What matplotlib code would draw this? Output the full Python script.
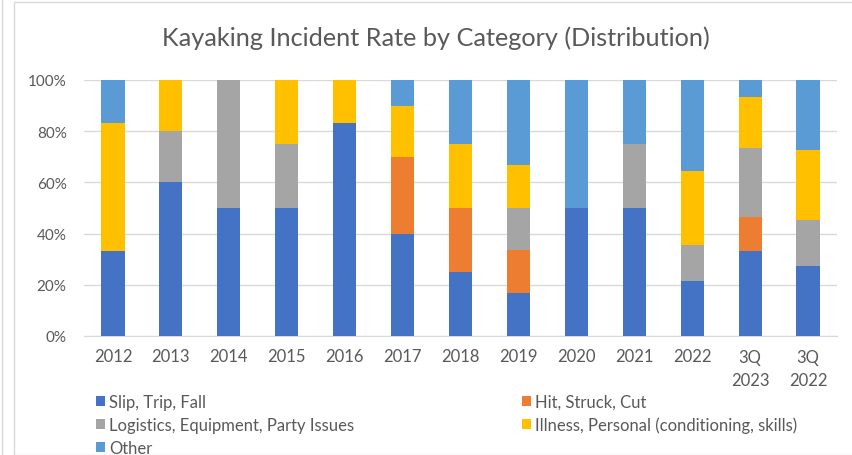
import matplotlib
matplotlib.use("Agg")
import matplotlib.pyplot as plt
import numpy as np
from matplotlib.patches import Rectangle

plt.rcParams['font.family'] = ['Lato', 'DejaVu Sans']

categories = ["2012", "2013", "2014", "2015", "2016", "2017", "2018", "2019",
              "2020", "2021", "2022", "3Q\n2023", "3Q\n2022"]
series_names = ["Slip, Trip, Fall", "Hit, Struck, Cut",
                "Logistics, Equipment, Party Issues",
                "Illness, Personal (conditioning, skills)", "Other"]
slip = [33.3, 60, 50, 50, 83.3, 40, 25, 16.7, 50, 50, 21.4, 33.3, 27.3]
hit = [0, 0, 0, 0, 0, 30, 25, 16.7, 0, 0, 0, 13.3, 0]
logistics = [0, 20, 50, 25, 0, 0, 0, 16.7, 0, 25, 14.3, 26.7, 18.2]
illness = [50, 20, 0, 25, 16.7, 20, 25, 16.7, 0, 0, 28.6, 20, 27.3]
other = [16.7, 0, 0, 0, 0, 10, 25, 33.3, 50, 25, 35.7, 6.7, 27.3]
colors = ["#4472C4", "#ED7D31", "#A5A5A5", "#FFC000", "#5B9BD5"]

W, H = 853, 456
fig = plt.figure(figsize=(W / 100, H / 100), dpi=100)
ax = fig.add_axes([84 / W, 1 - 337 / H, (837 - 84) / W, (337 - 81) / H])

x = np.arange(len(categories))
bottom = np.zeros(len(categories))
handles = []
for vals, name, c in zip([slip, hit, logistics, illness, other], series_names, colors):
    v = np.array(vals, dtype=float)
    b = ax.bar(x, v, 0.4, bottom=bottom, color=c, label=name, linewidth=0, zorder=3)
    handles.append(b)
    bottom += v

ax.set_xlim(-0.5, len(categories) - 0.5)
ax.set_ylim(0, 100)
ax.set_yticks(np.arange(0, 101, 20))
ax.set_yticklabels([f"{t}%" for t in range(0, 101, 20)])
ax.set_xticks(x)
ax.set_xticklabels(categories, linespacing=1.55, va="top")
ax.grid(axis="y", color="#D9D9D9", linewidth=1, zorder=0)
for s in ["top", "right", "left"]:
    ax.spines[s].set_visible(False)
ax.spines["bottom"].set_color("#D9D9D9")
ax.tick_params(axis="both", length=0, colors="#595959")
ax.tick_params(axis="x", pad=9, labelsize=12)
ax.tick_params(axis="y", pad=12.5, labelsize=11)

fig.text(436 / W, 1 - 38 / H, "Kayaking Incident Rate by Category (Distribution)",
         ha="center", va="center", fontsize=18.2, color="#595959")

order = [0, 2, 4, 1, 3]
leg = fig.legend([handles[i] for i in order], [series_names[i] for i in order],
                 ncol=2, mode="expand", frameon=False,
                 bbox_to_anchor=(96 / W, 1 - 395 / H, (797 - 96) / W, 0.001),
                 loc="upper left", fontsize=12, handlelength=0.55, handleheight=0.55,
                 handletextpad=0.25, labelspacing=0.42, borderaxespad=0, borderpad=0)
for t in leg.get_texts():
    t.set_color("#595959")

fig.patches.append(Rectangle((14 / W, 0), 1, 1 - 3 / H, transform=fig.transFigure,
                             fill=False, edgecolor="#D9D9D9", linewidth=1))
fig.patches.append(Rectangle((2 / W, 0), 0, 1, transform=fig.transFigure,
                             fill=False, edgecolor="#D9D9D9", linewidth=1))

fig.savefig("out.png", dpi=100)
